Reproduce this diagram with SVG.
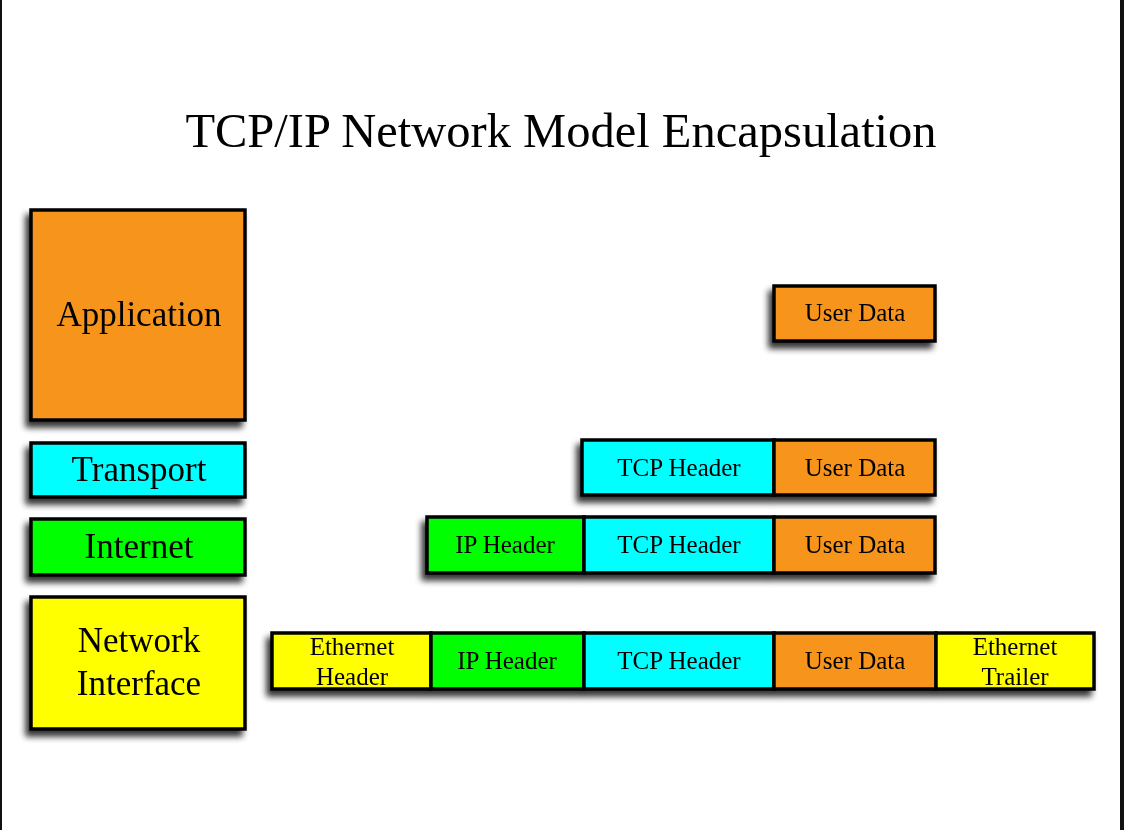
<svg xmlns="http://www.w3.org/2000/svg" width="1124" height="830" viewBox="0 0 1124 830">
<style>
.box{stroke:#000;stroke-width:3.5}
.o{fill:#F7941D}.c{fill:#00FFFF}.g{fill:#00FF00}.y{fill:#FFFF00}
.t{font-family:"Liberation Serif","Times New Roman",serif;fill:#000;text-anchor:middle}
.big{font-size:35px}.sm{font-size:25px}
</style>
<defs>
<filter id="sh" x="-10%" y="-20%" width="120%" height="150%">
<feGaussianBlur in="SourceAlpha" stdDeviation="3"/>
<feOffset dx="-4" dy="6" result="b"/>
<feComponentTransfer><feFuncA type="linear" slope="0.8"/></feComponentTransfer>
<feMerge><feMergeNode/><feMergeNode in="SourceGraphic"/></feMerge>
</filter>
</defs>
<rect x="0" y="0" width="1124" height="830" fill="#fff"/>
<rect x="0" y="0" width="2" height="830" fill="#111"/>
<rect x="1120" y="0" width="4" height="830" fill="#111"/>
<text class="t" x="561" y="147" font-size="48.5">TCP/IP Network Model Encapsulation</text>

<g id="layer-application" filter="url(#sh)">
<rect class="box o" x="31" y="210" width="214" height="210"/>
<text class="t big" x="139" y="326">Application</text>
</g>
<g id="layer-transport" filter="url(#sh)">
<rect class="box c" x="31" y="443" width="214" height="54"/>
<text class="t big" x="139" y="481">Transport</text>
</g>
<g id="layer-internet" filter="url(#sh)">
<rect class="box g" x="31" y="519" width="214" height="56"/>
<text class="t big" x="139" y="558">Internet</text>
</g>
<g id="layer-network-interface" filter="url(#sh)">
<rect class="box y" x="31" y="597" width="214" height="132"/>
<text class="t big" x="139" y="652">Network</text>
<text class="t big" x="139" y="695">Interface</text>
</g>

<g id="row-application" filter="url(#sh)">
<rect class="box o" x="774" y="286" width="161" height="55"/>
<text class="t sm" x="855" y="321">User Data</text>
</g>

<g id="row-transport" filter="url(#sh)">
<rect class="box c" x="582" y="440" width="192" height="55"/>
<rect class="box o" x="774" y="440" width="161" height="55"/>
<text class="t sm" x="679" y="476">TCP Header</text>
<text class="t sm" x="855" y="476">User Data</text>
</g>

<g id="row-internet" filter="url(#sh)">
<rect class="box g" x="427" y="517" width="157" height="56"/>
<rect class="box c" x="584" y="517" width="190" height="56"/>
<rect class="box o" x="774" y="517" width="161" height="56"/>
<text class="t sm" x="505" y="553">IP Header</text>
<text class="t sm" x="679" y="553">TCP Header</text>
<text class="t sm" x="855" y="553">User Data</text>
</g>

<g id="row-network-interface" filter="url(#sh)">
<rect class="box y" x="272" y="633" width="159" height="56"/>
<rect class="box g" x="431" y="633" width="153" height="56"/>
<rect class="box c" x="584" y="633" width="190" height="56"/>
<rect class="box o" x="774" y="633" width="162" height="56"/>
<rect class="box y" x="936" y="633" width="158" height="56"/>
<text class="t sm" x="352" y="655">Ethernet</text>
<text class="t sm" x="352" y="685">Header</text>
<text class="t sm" x="507" y="669">IP Header</text>
<text class="t sm" x="679" y="669">TCP Header</text>
<text class="t sm" x="855" y="669">User Data</text>
<text class="t sm" x="1015" y="655">Ethernet</text>
<text class="t sm" x="1015" y="685">Trailer</text>
</g>
<g id="connectors"/>
</svg>
